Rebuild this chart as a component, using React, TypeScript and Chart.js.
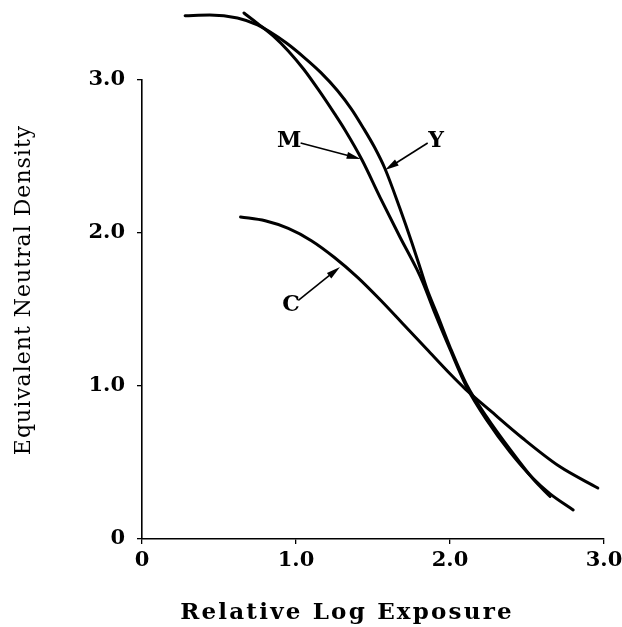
import React, { useEffect, useRef } from "react";
import { Chart, registerables } from "chart.js";

Chart.register(...registerables);

// Axis ticks
const xTickValues = [0, 1, 2, 3];
const yTickValues = [0, 1, 2, 3];

// Y (yellow-forming layer) curve
const yCurveX = [0.28, 0.44, 0.62, 0.75, 0.83, 0.94, 1.05, 1.16, 1.27, 1.36, 1.435, 1.51, 1.578, 1.675, 1.753, 1.81, 1.85, 1.92, 2.0, 2.11, 2.24, 2.39, 2.54, 2.65];
const yCurveY = [3.42, 3.425, 3.405, 3.36, 3.315, 3.24, 3.15, 3.05, 2.93, 2.81, 2.69, 2.56, 2.42, 2.16, 1.935, 1.76, 1.635, 1.46, 1.255, 1.005, 0.795, 0.585, 0.392, 0.278];

// M (magenta-forming layer) curve
const mCurveX = [0.662, 0.75, 0.85, 0.95, 1.05, 1.15, 1.25, 1.318, 1.429, 1.545, 1.675, 1.786, 1.825, 1.9, 2.0, 2.11, 2.24, 2.39, 2.54, 2.65, 2.8];
const mCurveY = [3.438, 3.37, 3.29, 3.19, 3.07, 2.93, 2.78, 2.673, 2.477, 2.235, 1.974, 1.76, 1.673, 1.48, 1.24, 0.99, 0.775, 0.568, 0.395, 0.295, 0.19];

// C (cyan-forming layer) curve
const cCurveX = [0.64, 0.8, 0.95, 1.1, 1.25, 1.4, 1.55, 1.7, 1.85, 2.0, 2.1, 2.26, 2.47, 2.71, 2.96];
const cCurveY = [2.105, 2.08, 2.03, 1.95, 1.84, 1.71, 1.56, 1.4, 1.24, 1.08, 0.98, 0.84, 0.66, 0.475, 0.333];

// Curve labels and arrows (data coordinates)
const labelNames = ["M", "Y", "C"];
const labelX = [0.955, 1.909, 0.968];
const labelY = [2.6, 2.6, 1.53];
const arrowFromX = [1.03, 1.855, 1.015];
const arrowFromY = [2.588, 2.588, 1.56];
const arrowToX = [1.42, 1.578, 1.286];
const arrowToY = [2.484, 2.412, 1.778];

const xTitle = "Relative Log Exposure";
const yTitle = "Equivalent Neutral Density";

const toPts = (xs: number[], ys: number[]) => xs.map((x, i) => ({ x, y: ys[i] }));
const tickText = (v: number) => (v === 0 ? "0" : v.toFixed(1));

const annotationPlugin = {
  id: "annotations",
  afterDatasetsDraw(chart: any) {
    const ctx = chart.ctx as CanvasRenderingContext2D;
    const xs = chart.scales.x;
    const ys = chart.scales.y;
    ctx.save();
    ctx.fillStyle = "#000";
    ctx.strokeStyle = "#000";
    ctx.font = "bold 22px 'DejaVu Serif'";
    ctx.textAlign = "center";
    ctx.textBaseline = "middle";
    for (let i = 0; i < labelNames.length; i++) {
      ctx.fillText(labelNames[i], xs.getPixelForValue(labelX[i]), ys.getPixelForValue(labelY[i]));
      const x0 = xs.getPixelForValue(arrowFromX[i]);
      const y0 = ys.getPixelForValue(arrowFromY[i]);
      const x1 = xs.getPixelForValue(arrowToX[i]);
      const y1 = ys.getPixelForValue(arrowToY[i]);
      const ang = Math.atan2(y1 - y0, x1 - x0);
      const hl = 14;
      const hw = 3.5;
      ctx.lineWidth = 1.6;
      ctx.beginPath();
      ctx.moveTo(x0, y0);
      ctx.lineTo(x1 - Math.cos(ang) * hl * 0.8, y1 - Math.sin(ang) * hl * 0.8);
      ctx.stroke();
      ctx.beginPath();
      ctx.moveTo(x1, y1);
      ctx.lineTo(x1 - Math.cos(ang) * hl - Math.sin(ang) * hw, y1 - Math.sin(ang) * hl + Math.cos(ang) * hw);
      ctx.lineTo(x1 - Math.cos(ang) * hl + Math.sin(ang) * hw, y1 - Math.sin(ang) * hl - Math.cos(ang) * hw);
      ctx.closePath();
      ctx.fill();
    }
    ctx.restore();
  },
  afterDraw(chart: any) {
    const ctx = chart.ctx as CanvasRenderingContext2D;
    ctx.save();
    ctx.fillStyle = "#000";
    ctx.textAlign = "center";
    ctx.textBaseline = "middle";
    ctx.font = "bold 23px 'DejaVu Serif'";
    (ctx as any).letterSpacing = "2.2px";
    ctx.fillText(xTitle, 347, 613);
    ctx.font = "22px 'DejaVu Serif'";
    (ctx as any).letterSpacing = "1px";
    ctx.translate(24, 290);
    ctx.rotate(-Math.PI / 2);
    ctx.fillText(yTitle, 0, 0);
    ctx.restore();
  },
};

export default function App() {
  const ref = useRef<HTMLCanvasElement>(null);
  useEffect(() => {
    if (!ref.current) return;
    const lineDs = (label: string, xs: number[], ys: number[]) => ({
      label,
      data: toPts(xs, ys),
      showLine: true,
      borderColor: "#000",
      backgroundColor: "#000",
      borderWidth: 3,
      pointRadius: 0,
      cubicInterpolationMode: "monotone" as const,
      clip: false as any,
      borderCapStyle: "round" as const,
    });
    const tickFont = { family: "'DejaVu Serif'", size: 21, weight: "bold" as const };
    const chart = new Chart(ref.current, {
      type: "scatter",
      data: {
        datasets: [
          lineDs("Y", yCurveX, yCurveY),
          lineDs("M", mCurveX, mCurveY),
          lineDs("C", cCurveX, cCurveY),
        ],
      },
      options: {
        animation: false,
        responsive: true,
        maintainAspectRatio: false,
        layout: { padding: { left: 0, top: 80, right: 18, bottom: 0 } },
        plugins: { legend: { display: false }, tooltip: { enabled: false } },
        scales: {
          x: {
            type: "linear",
            min: 0,
            max: 3,
            afterBuildTicks: (s: any) => {
              s.ticks = xTickValues.map((v) => ({ value: v }));
            },
            afterFit: (s: any) => {
              s.height = 88;
              s.paddingLeft = 0;
              s.paddingRight = 0;
            },
            grid: { display: true, drawOnChartArea: false, drawTicks: true, tickLength: 5, color: "#000", lineWidth: 1.3 },
            border: { display: true, color: "#000", width: 1.6 },
            ticks: { color: "#000", font: tickFont, padding: 4, maxRotation: 0, callback: (v: any) => tickText(Number(v)) },
          },
          y: {
            type: "linear",
            min: 0,
            max: 3,
            afterBuildTicks: (s: any) => {
              s.ticks = yTickValues.map((v) => ({ value: v }));
            },
            afterFit: (s: any) => {
              s.width = 142;
              s.paddingTop = 0;
              s.paddingBottom = 0;
            },
            grid: { display: true, drawOnChartArea: false, drawTicks: true, tickLength: 5, color: "#000", lineWidth: 1.3 },
            border: { display: true, color: "#000", width: 1.6 },
            ticks: { color: "#000", font: tickFont, padding: 12, callback: (v: any) => tickText(Number(v)) },
          },
        },
      },
      plugins: [annotationPlugin],
    });
    return () => chart.destroy();
  }, []);
  return (
    <div style={{ position: "absolute", left: 0, top: 0, width: 622, height: 627, background: "#fff" }}>
      <canvas ref={ref} />
    </div>
  );
}
